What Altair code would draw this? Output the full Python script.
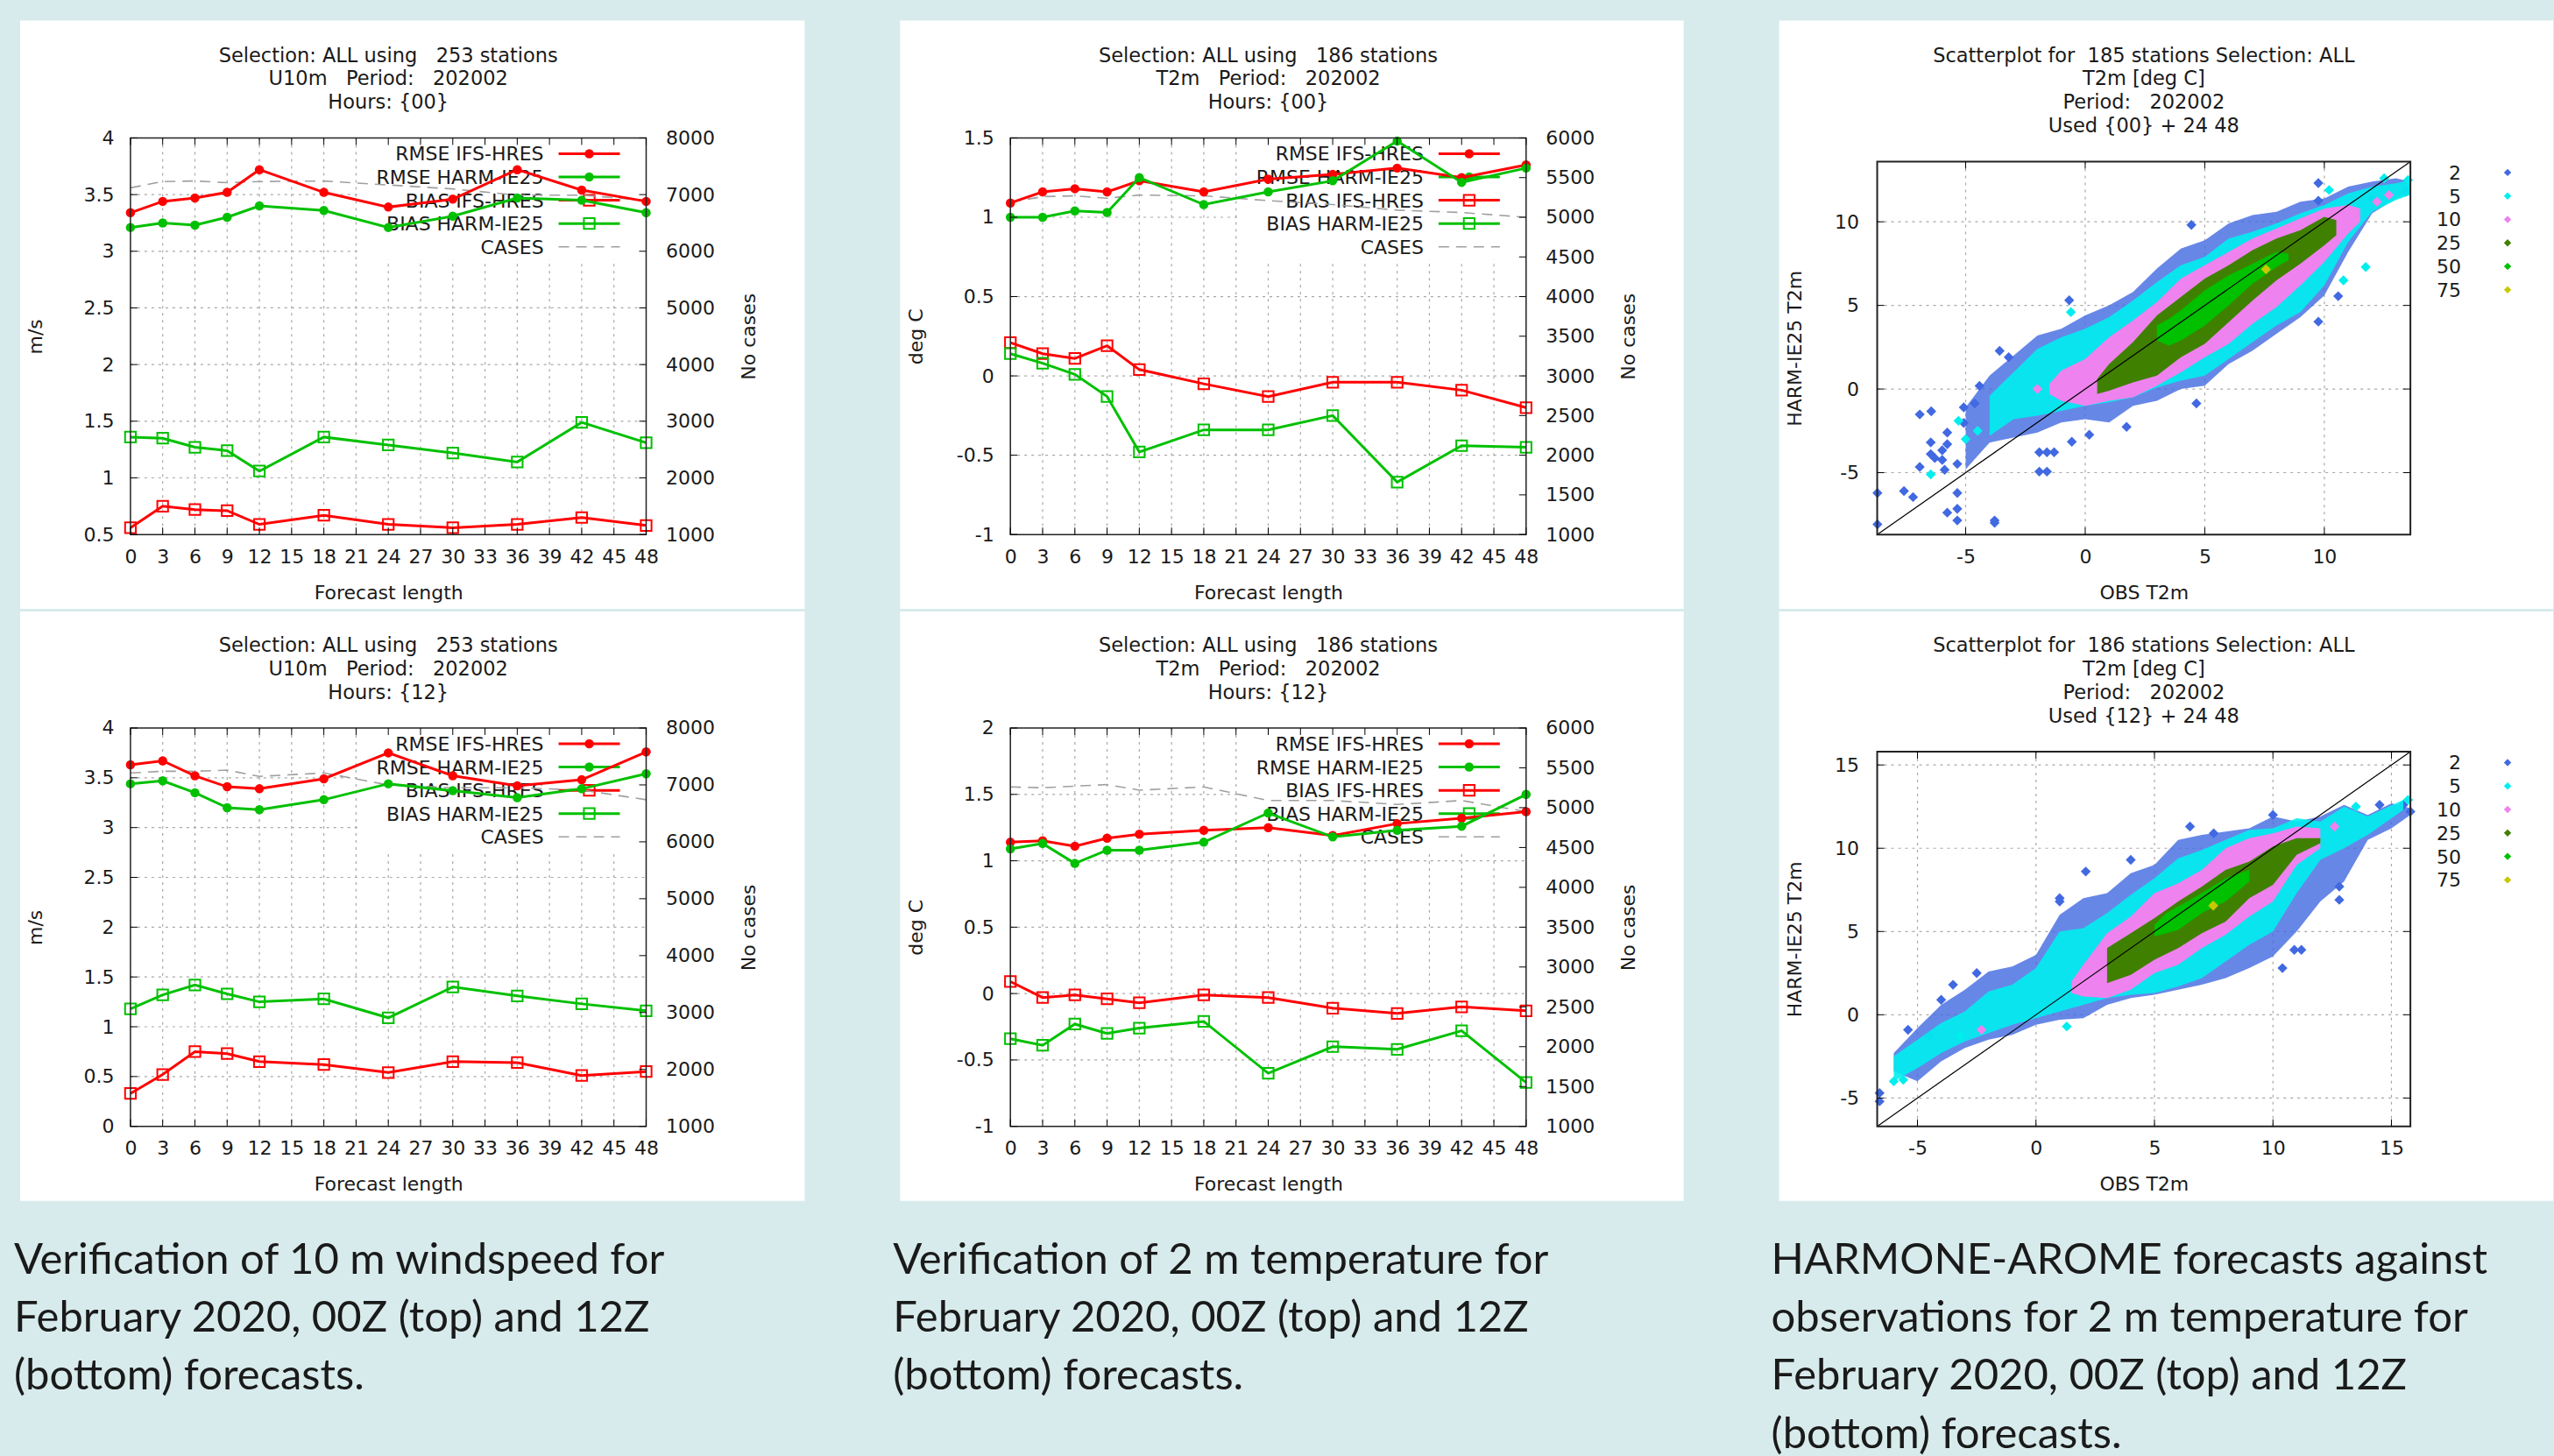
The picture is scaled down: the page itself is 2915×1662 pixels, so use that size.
import altair as alt
import pandas as pd

# ------------------------------------------------------------------ data
HOURS = [0, 3, 6, 9, 12, 18, 24, 30, 36, 42, 48]
X_TICKS = list(range(0, 49, 3))
SERIES = ["RMSE IFS-HRES", "RMSE HARM-IE25", "BIAS IFS-HRES", "BIAS HARM-IE25", "CASES"]

U10_00_RMSE_IFS = [3.34, 3.44, 3.47, 3.52, 3.72, 3.52, 3.39, 3.46, 3.72, 3.54, 3.44]
U10_00_RMSE_HARM = [3.21, 3.25, 3.23, 3.30, 3.40, 3.36, 3.21, 3.31, 3.47, 3.45, 3.34]
U10_00_BIAS_IFS = [0.56, 0.75, 0.72, 0.71, 0.59, 0.67, 0.59, 0.56, 0.59, 0.65, 0.58]
U10_00_BIAS_HARM = [1.36, 1.35, 1.27, 1.24, 1.06, 1.36, 1.29, 1.22, 1.14, 1.49, 1.31]
U10_00_CASES = [7120, 7230, 7240, 7210, 7230, 7240, 7170, 7100, 6990, 6990, 6900]

U10_12_RMSE_IFS = [3.63, 3.67, 3.52, 3.41, 3.39, 3.49, 3.75, 3.52, 3.42, 3.48, 3.76]
U10_12_RMSE_HARM = [3.44, 3.47, 3.35, 3.20, 3.18, 3.28, 3.44, 3.37, 3.30, 3.39, 3.54]
U10_12_BIAS_IFS = [0.33, 0.52, 0.75, 0.73, 0.65, 0.62, 0.54, 0.65, 0.64, 0.51, 0.55]
U10_12_BIAS_HARM = [1.18, 1.32, 1.42, 1.33, 1.25, 1.28, 1.09, 1.40, 1.31, 1.23, 1.16]
U10_12_CASES = [7210, 7240, 7240, 7260, 7150, 7210, 7000, 6950, 6950, 6910, 6740]

T2_00_RMSE_IFS = [1.09, 1.16, 1.18, 1.16, 1.23, 1.16, 1.24, 1.27, 1.31, 1.25, 1.33]
T2_00_RMSE_HARM = [1.00, 1.00, 1.04, 1.03, 1.25, 1.08, 1.16, 1.23, 1.48, 1.22, 1.31]
T2_00_BIAS_IFS = [0.21, 0.14, 0.11, 0.19, 0.04, -0.05, -0.13, -0.04, -0.04, -0.09, -0.20]
T2_00_BIAS_HARM = [0.14, 0.08, 0.01, -0.13, -0.48, -0.34, -0.34, -0.25, -0.67, -0.44, -0.45]
T2_00_CASES = [5190, 5260, 5270, 5240, 5280, 5270, 5210, 5160, 5090, 5060, 5000]

T2_12_RMSE_IFS = [1.14, 1.15, 1.11, 1.17, 1.20, 1.23, 1.25, 1.19, 1.28, 1.32, 1.37]
T2_12_RMSE_HARM = [1.09, 1.13, 0.98, 1.08, 1.08, 1.14, 1.36, 1.18, 1.23, 1.26, 1.50]
T2_12_BIAS_IFS = [0.09, -0.03, -0.01, -0.04, -0.07, -0.01, -0.03, -0.11, -0.15, -0.10, -0.13]
T2_12_BIAS_HARM = [-0.34, -0.39, -0.23, -0.30, -0.26, -0.21, -0.60, -0.40, -0.42, -0.28, -0.67]
T2_12_CASES = [5260, 5250, 5270, 5290, 5220, 5260, 5090, 5090, 5040, 5090, 4950]

U10_YTICKS_00 = [0.5, 1, 1.5, 2, 2.5, 3, 3.5, 4]
U10_YTICKS_12 = [0, 0.5, 1, 1.5, 2, 2.5, 3, 3.5, 4]
T2_YTICKS_00 = [-1, -0.5, 0, 0.5, 1, 1.5]
T2_YTICKS_12 = [-1, -0.5, 0, 0.5, 1, 1.5, 2]
U10_CTICKS = [1000, 2000, 3000, 4000, 5000, 6000, 7000, 8000]
T2_CTICKS = [1000, 1500, 2000, 2500, 3000, 3500, 4000, 4500, 5000, 5500, 6000]

TITLE_U10_00 = ["Selection: ALL using\u00a0\u00a0 253 stations", "U10m\u00a0\u00a0 Period:\u00a0\u00a0 202002", "Hours: {00}"]
TITLE_U10_12 = ["Selection: ALL using\u00a0\u00a0 253 stations", "U10m\u00a0\u00a0 Period:\u00a0\u00a0 202002", "Hours: {12}"]
TITLE_T2_00 = ["Selection: ALL using\u00a0\u00a0 186 stations", "T2m\u00a0\u00a0 Period:\u00a0\u00a0 202002", "Hours: {00}"]
TITLE_T2_12 = ["Selection: ALL using\u00a0\u00a0 186 stations", "T2m\u00a0\u00a0 Period:\u00a0\u00a0 202002", "Hours: {12}"]
TITLE_SC_00 = ["Scatterplot for\u00a0 185 stations Selection: ALL", "T2m [deg C]", "Period:\u00a0\u00a0 202002", "Used {00} + 24 48"]
TITLE_SC_12 = ["Scatterplot for\u00a0 186 stations Selection: ALL", "T2m [deg C]", "Period:\u00a0\u00a0 202002", "Used {12} + 24 48"]

CAPTIONS = [
    ["Verification of 10 m windspeed for", "February 2020, 00Z (top) and 12Z", "(bottom) forecasts."],
    ["Verification of 2 m temperature for", "February 2020, 00Z (top) and 12Z", "(bottom) forecasts."],
    ["HARMONE-AROME forecasts against", "observations for 2 m temperature for", "February 2020, 00Z (top) and 12Z", "(bottom) forecasts."],
]

# scatter: density classes
CLASS_LABELS = ["2", "5", "10", "25", "50", "75"]
CLASS_COLORS = ["#4169e1", "#00eeee", "#ee82ee", "#408000", "#00c000", "#c8c800"]

SC00_DOMAIN = [-8.7, 13.6]
SC00_TICKS = [-5, 0, 5, 10]
SC00_BLUE_OBS = [-5, -4, -3, -2, -1, 0, 1, 2, 3, 4, 5, 6, 7, 8, 9, 10, 11, 12, 13, 13.6]
SC00_BLUE_LO = [-4.8, -3.2, -2.9, -2.6, -2.0, -1.8, -2.0, -1.0, -0.7, 0.0, 0.2, 1.5, 2.3, 3.3, 4.3, 5.6, 8.2, 10.5, 11.4, 11.7]
SC00_BLUE_HI = [-1.1, 0.8, 2.0, 3.2, 3.6, 4.4, 5.0, 5.8, 7.2, 8.4, 8.9, 9.9, 10.4, 10.6, 11.2, 11.4, 12.1, 12.4, 12.6, 12.4]
SC00_CYAN_OBS = [-4, -3, -2, -1, 0, 1, 2, 3, 4, 5, 6, 7, 8, 9, 10, 11, 12, 13, 13.6]
SC00_CYAN_LO = [-2.8, -1.8, -1.6, -1.3, -1.0, -0.8, -0.5, 0.1, 0.5, 0.8, 1.8, 2.8, 3.8, 4.6, 6.2, 8.8, 10.6, 11.3, 11.6]
SC00_CYAN_HI = [-0.4, 1.0, 2.4, 3.1, 3.6, 4.3, 5.3, 6.4, 7.4, 7.9, 9.0, 9.4, 9.9, 10.5, 11.0, 11.7, 12.1, 12.3, 12.5]
SC00_PINK_OBS = [-1.5, -1, 0, 1, 2, 3, 4, 5, 6, 7, 8, 9, 10, 11, 11.5]
SC00_PINK_LO = [-0.3, -0.7, -1.0, -0.7, -0.5, 0.2, 1.0, 1.9, 2.7, 3.9, 4.9, 6.2, 7.6, 9.3, 10.0]
SC00_PINK_HI = [0.3, 1.1, 1.8, 3.1, 4.1, 5.2, 6.6, 7.4, 8.2, 9.0, 9.6, 10.2, 10.8, 11.0, 10.8]
SC00_DKGR_OBS = [0.5, 1, 2, 3, 4, 5, 6, 7, 8, 9, 10, 10.5]
SC00_DKGR_LO = [-0.3, -0.1, 0.4, 0.8, 1.9, 2.7, 4.0, 5.3, 6.5, 7.5, 8.6, 9.2]
SC00_DKGR_HI = [0.6, 1.5, 2.8, 4.4, 5.5, 6.6, 7.4, 8.3, 9.0, 9.5, 10.3, 10.1]
SC00_GREEN_OBS = [3, 3.5, 4, 5, 6, 7, 8, 8.5]
SC00_GREEN_LO = [2.9, 2.6, 2.9, 3.8, 5.0, 6.3, 7.3, 7.7]
SC00_GREEN_HI = [3.8, 4.2, 4.7, 5.9, 6.8, 7.5, 8.2, 8.1]
SC00_BLUE_OUT_X = [-8.69, -8.69, -7.58, -7.2, -6.92, -6.44, -6.92, -6.46, -6.46, -6.29, -5.98, -5.98, -5.88, -5.77, -5.77, -5.77,
                   -5.35, -5.35, -5.35, -5.35, -5.08, -5.08, -4.62, -4.42, -3.58, -3.79, -3.79, -1.92, -1.6, -1.92, -1.6, -1.3,
                   -0.67, -0.56, 0.17, 1.73, 4.44, 4.65, 9.75, 9.75, 9.75, 10.58, -3.2, 12.0, 13.4]
SC00_BLUE_OUT_Y = [-6.22, -8.09, -6.1, -6.46, -1.52, -1.33, -4.66, -3.19, -3.89, -4.13, -3.66, -4.24, -4.83, -2.6, -3.3, -7.39,
                   -7.16, -7.86, -6.22, -4.48, -1.1, -2.03, -0.86, 0.19, 2.28, -7.86, -8.0, -4.94, -4.94, -3.78, -3.78, -3.78,
                   5.31, -3.15, -2.73, -2.26, 9.81, -0.86, 12.31, 11.26, 4.03, 5.55, 1.9, 11.4, 11.8]
SC00_CYAN_OUT_X = [-6.46, -5.3, -5.0, -4.5, 11.73, 10.8, 10.2, -0.6, 12.5, 13.5]
SC00_CYAN_OUT_Y = [-5.1, -1.9, -3.0, -2.5, 7.3, 6.5, 11.9, 4.6, 12.6, 12.5]
SC00_PINK_OUT_X = [12.7, 12.2, -2.0]
SC00_PINK_OUT_Y = [11.6, 11.2, 0.0]
SC00_YELLOW_X = [7.56]
SC00_YELLOW_Y = [7.16]

SC12_DOMAIN = [-6.7, 15.8]
SC12_TICKS = [-5, 0, 5, 10, 15]
SC12_BLUE_OBS = [-6, -5, -4, -3, -2, -1, 0, 1, 2, 3, 4, 5, 6, 7, 8, 9, 10, 11, 12, 13, 14, 15, 15.8]
SC12_BLUE_LO = [-3.4, -4.0, -2.8, -2.0, -1.5, -1.2, -0.6, -0.3, -0.2, 0.6, 1.0, 1.2, 1.5, 1.8, 2.2, 2.8, 3.5, 5.0, 6.8, 8.0, 10.5, 11.2, 12.0]
SC12_BLUE_HI = [-2.3, -0.8, 0.6, 1.5, 2.6, 2.9, 3.6, 6.0, 7.0, 7.3, 8.5, 9.0, 10.5, 10.8, 11.0, 11.2, 11.9, 11.6, 11.9, 12.6, 12.0, 12.7, 12.4]
SC12_CYAN_OBS = [-6, -5, -4, -3, -2, -1, 0, 1, 2, 3, 4, 5, 6, 7, 8, 9, 10, 11, 12, 13, 14, 15.5]
SC12_CYAN_LO = [-4.0, -3.2, -2.3, -1.6, -1.1, -0.6, -0.2, 0.2, 0.6, 1.0, 1.2, 1.3, 1.7, 2.2, 3.2, 4.2, 5.0, 7.3, 9.3, 10.0, 10.8, 12.3]
SC12_CYAN_HI = [-2.5, -1.5, -0.5, 0.2, 1.4, 1.8, 2.8, 5.0, 5.2, 6.1, 7.2, 8.2, 9.4, 9.9, 10.5, 11.1, 11.2, 11.8, 11.6, 12.5, 11.9, 12.9]
SC12_PINK_OBS = [1.5, 2, 3, 4, 5, 6, 7, 8, 9, 10, 11, 12]
SC12_PINK_LO = [1.3, 1.1, 1.0, 1.5, 2.5, 3.0, 4.0, 4.8, 5.9, 6.8, 9.0, 10.0]
SC12_PINK_HI = [2.0, 3.0, 4.9, 5.9, 7.3, 7.9, 8.7, 10.0, 10.6, 10.9, 11.3, 11.2]
SC12_DKGR_OBS = [3, 4, 5, 6, 7, 8, 9, 10, 11, 12]
SC12_DKGR_LO = [1.9, 2.4, 3.3, 4.0, 4.9, 5.6, 7.0, 7.8, 9.6, 10.3]
SC12_DKGR_HI = [4.0, 4.9, 5.8, 6.8, 7.7, 8.7, 9.2, 10.1, 10.6, 10.6]
SC12_GREEN_OBS = [5, 5.5, 6, 7, 8, 9]
SC12_GREEN_LO = [4.7, 4.9, 5.1, 6.1, 6.8, 8.0]
SC12_GREEN_HI = [5.4, 6.1, 6.5, 7.3, 8.2, 8.7]
SC12_BLUE_OUT_X = [-6.6, -6.6, -5.4, -4.0, -2.5, 2.1, 4.0, 1.0, 1.0, 10.4, 10.9, 11.2, 12.8, 12.8, 14.5, 15.5, 15.8, 6.5, 7.5, 10.0, -3.5, -4.5]
SC12_BLUE_OUT_Y = [-4.7, -5.2, -0.9, 0.9, 2.5, 8.6, 9.3, 7.0, 6.8, 2.8, 3.9, 3.9, 6.9, 7.7, 12.6, 12.6, 12.2, 11.3, 10.9, 12.0, 1.8, -1.3]
SC12_CYAN_OUT_X = [-6.0, -3.2, 13.5, 15.7, 1.3, -5.6]
SC12_CYAN_OUT_Y = [-4.0, -1.3, 12.5, 12.9, -0.7, -3.9]
SC12_PINK_OUT_X = [12.6, -2.3]
SC12_PINK_OUT_Y = [11.3, -0.9]
SC12_YELLOW_X = [7.48]
SC12_YELLOW_Y = [6.55]

# ------------------------------------------------------------------ layout / style
CANVAS_W, CANVAS_H = 2915, 1662
COL_X = [148, 1153, 2143]
ROW_Y = [156, 830]
PLOT_W = [589, 589, 609]
COL_W = [604, 589, 609]
ROW_H = [453, 455]
SCAT_TOP = 27
WHITE_X = [(22, 918), (1027, 1922), (2031, 2915)]
WHITE_Y = [(22, 694), (697, 1370)]
CAPTION_X = [15, 1019, 2022]
CAPTION_BASE = 1453

BG = "#d8ebec"
TXT = "#1a1a1a"
GRID = "#a8a8a8"
FONT = "DejaVu Sans"
CAP_FONT = "Lato"
RED = "#ff0000"
GREEN = "#00c000"
CASES_COLOR = "#a0a0a0"
AREA_OPACITY = [0.8, 0.9, 1, 1, 1]

ONE = pd.DataFrame({"k": [0]})

AX = dict(domain=False, ticks=False, grid=False, labelFont=FONT, labelFontSize=22, labelColor=TXT,
          titleFont=FONT, titleFontSize=22, titleColor=TXT, titleFontWeight="normal",
          labelExpr="'' + datum.value", zindex=1, labelOverlap=False, labelFlush=False)


def vrect(x0, x1, y0, y1, color):
    return alt.Chart(ONE).mark_rect(color=color).encode(
        x=alt.value(x0), x2=alt.value(x1), y=alt.value(y0), y2=alt.value(y1))


def vtext(lines, x, y, size, align, font, lh):
    df = pd.DataFrame({"t": ["\n".join(lines)]})
    return alt.Chart(df).mark_text(align=align, baseline="alphabetic", fontSize=size, font=font,
                                   color=TXT, lineBreak="\n", lineHeight=lh).encode(
        text="t:N", x=alt.value(x), y=alt.value(y))


def scl(domain, rng):
    return alt.Scale(domain=domain, range=rng, nice=False, zero=False)


def ticks_x(values, xsc, y0, y1):
    return alt.Chart(pd.DataFrame({"v": values})).mark_rule(color="#000", strokeWidth=1).encode(
        x=alt.X("v:Q", scale=xsc, axis=None), y=alt.value(y0), y2=alt.value(y1))


def ticks_y(values, ysc, x0, x1):
    return alt.Chart(pd.DataFrame({"v": values})).mark_rule(color="#000", strokeWidth=1).encode(
        y=alt.Y("v:Q", scale=ysc, axis=None), x=alt.value(x0), x2=alt.value(x1))


def frame(xdom, ydom, xsc, ysc, width):
    df = pd.DataFrame({"x0": [xdom[0]], "x1": [xdom[1]], "y0": [ydom[0]], "y1": [ydom[1]]})
    return alt.Chart(df).mark_rect(fillOpacity=0, stroke="#222", strokeWidth=width).encode(
        x=alt.X("x0:Q", scale=xsc, axis=None), x2="x1:Q",
        y=alt.Y("y0:Q", scale=ysc, axis=None), y2="y1:Q")


def white_panel(col, row):
    ox, oy = COL_X[col], ROW_Y[row]
    return vrect(WHITE_X[col][0] - ox, WHITE_X[col][1] - ox, WHITE_Y[row][0] - oy, WHITE_Y[row][1] - oy, "white")


def line_panel(col, row, titles, ylab, ydom, yticks, cdom, cticks,
               rmse_ifs, rmse_harm, bias_ifs, bias_harm, cases):
    H, W, GW = ROW_H[row], PLOT_W[col], COL_W[col]
    xsc = scl([0, 48], [0, W])
    ysc = scl(ydom, [H, 0])
    csc = scl(cdom, [H, 0])
    L = []
    if col == 0 and row == 0:
        L.append(vrect(-COL_X[0], CANVAS_W - COL_X[0], -ROW_Y[0], CANVAS_H - ROW_Y[0], BG))
    L.append(white_panel(col, row))
    # grid
    L.append(alt.Chart(pd.DataFrame({"v": X_TICKS[1:-1]})).mark_rule(
        color=GRID, strokeDash=[3, 5], strokeWidth=1.2).encode(
        x=alt.X("v:Q", scale=xsc, axis=alt.Axis(
            orient="bottom", values=X_TICKS, labelPadding=15, title="Forecast length",
            titleX=W / 2, titleY=66, titleAlign="center", titleBaseline="middle", **AX)),
        y=alt.value(0), y2=alt.value(H)))
    L.append(alt.Chart(pd.DataFrame({"v": yticks[1:-1]})).mark_rule(
        color=GRID, strokeDash=[3, 5], strokeWidth=1.2).encode(
        y=alt.Y("v:Q", scale=ysc, axis=alt.Axis(
            orient="left", values=yticks, labelPadding=19, title=ylab, titleAngle=270,
            titleX=-108, titleY=H / 2, titleAlign="center", titleBaseline="middle", **AX)),
        x=alt.value(0), x2=alt.value(W)))
    # legend box (opaque key)
    L.append(vrect(261, W, 0, 139, "white"))
    colors = [RED, GREEN, RED, GREEN, CASES_COLOR]
    for i, name in enumerate(SERIES):
        yc = 18 + 26.6 * i
        L.append(alt.Chart(ONE).mark_text(align="right", baseline="alphabetic", fontSize=22, font=FONT,
                                          color=TXT).encode(text=alt.value(name), x=alt.value(472),
                                                            y=alt.value(yc + 8)))
        if i == 4:
            L.append(alt.Chart(ONE).mark_rule(color=CASES_COLOR, strokeWidth=1.5, strokeDash=[12, 8]).encode(
                x=alt.value(489), x2=alt.value(559), y=alt.value(yc)))
        else:
            L.append(alt.Chart(ONE).mark_rule(color=colors[i], strokeWidth=3).encode(
                x=alt.value(489), x2=alt.value(559), y=alt.value(yc)))
            if i < 2:
                L.append(alt.Chart(ONE).mark_point(shape="circle", filled=True, size=110, color=colors[i],
                                                   opacity=1).encode(x=alt.value(524), y=alt.value(yc)))
            else:
                L.append(alt.Chart(ONE).mark_point(shape="square", filled=False, size=150, strokeWidth=2,
                                                   color=colors[i], opacity=1).encode(
                    x=alt.value(524), y=alt.value(yc)))
    # cases (right axis)
    L.append(alt.Chart(pd.DataFrame({"h": HOURS, "v": cases})).mark_line(
        color=CASES_COLOR, strokeDash=[12, 8], strokeWidth=1.6).encode(
        x=alt.X("h:Q", scale=xsc, axis=None),
        y=alt.Y("v:Q", scale=csc, axis=alt.Axis(
            orient="right", values=cticks, offset=W - GW, labelPadding=22, title="No cases",
            titleAngle=270, titleX=117, titleY=H / 2, titleAlign="center", titleBaseline="middle", **AX))))
    # series
    for vals, color, kind in [(rmse_ifs, RED, "rmse"), (rmse_harm, GREEN, "rmse"),
                              (bias_ifs, RED, "bias"), (bias_harm, GREEN, "bias")]:
        df = pd.DataFrame({"h": HOURS, "v": vals})
        enc = dict(x=alt.X("h:Q", scale=xsc, axis=None), y=alt.Y("v:Q", scale=ysc, axis=None))
        L.append(alt.Chart(df).mark_line(color=color, strokeWidth=3).encode(**enc))
        if kind == "rmse":
            L.append(alt.Chart(df).mark_point(shape="circle", filled=True, size=110, color=color,
                                              opacity=1).encode(**enc))
        else:
            L.append(alt.Chart(df).mark_point(shape="square", filled=False, size=150, strokeWidth=2,
                                              color=color, opacity=1).encode(**enc))
    # frame and inward ticks
    L.append(frame([0, 48], ydom, xsc, ysc, 1.5))
    L.append(ticks_x(X_TICKS, xsc, H, H - 8))
    L.append(ticks_x(X_TICKS, xsc, 0, 8))
    L.append(ticks_y(yticks, ysc, 0, 8))
    L.append(ticks_y(cticks, csc, W, W - 8))
    # title
    L.append(vtext(titles, W / 2, -87, 22.5, "center", FONT, 27))
    if row == 1:
        L.append(vtext(CAPTIONS[col], CAPTION_X[col] - COL_X[col], CAPTION_BASE - ROW_Y[1], 49, "left",
                       CAP_FONT, 66.5))
    return alt.layer(*L).resolve_scale(x="independent", y="independent").properties(width=GW, height=H)


def scatter_panel(row, titles, dom, ticks, areas, outliers, yellow):
    col = 2
    H, W = ROW_H[row], PLOT_W[col]
    xsc = scl(dom, [0, W])
    ysc = scl(dom, [H, SCAT_TOP])
    L = [white_panel(col, row)]
    L.append(alt.Chart(pd.DataFrame({"v": ticks})).mark_rule(
        color=GRID, strokeDash=[3, 5], strokeWidth=1.2).encode(
        x=alt.X("v:Q", scale=xsc, axis=alt.Axis(
            orient="bottom", values=ticks, labelPadding=15, title="OBS T2m",
            titleX=W / 2, titleY=66, titleAlign="center", titleBaseline="middle", **AX)),
        y=alt.value(SCAT_TOP), y2=alt.value(H)))
    L.append(alt.Chart(pd.DataFrame({"v": ticks})).mark_rule(
        color=GRID, strokeDash=[3, 5], strokeWidth=1.2).encode(
        y=alt.Y("v:Q", scale=ysc, axis=alt.Axis(
            orient="left", values=ticks, labelPadding=21, title="HARM-IE25 T2m", titleAngle=270,
            titleX=-94, titleY=(H + SCAT_TOP) / 2, titleAlign="center", titleBaseline="middle", **AX)),
        x=alt.value(0), x2=alt.value(W)))
    for i, (obs, lo, hi) in enumerate(areas):
        df = pd.DataFrame({"obs": obs, "lo": lo, "hi": hi})
        L.append(alt.Chart(df).mark_area(color=CLASS_COLORS[i], opacity=AREA_OPACITY[i]).encode(
            x=alt.X("obs:Q", scale=xsc, axis=None),
            y=alt.Y("lo:Q", scale=ysc, axis=None), y2="hi:Q"))
        if i < len(outliers):
            ox, oy = outliers[i]
            L.append(alt.Chart(pd.DataFrame({"x": ox, "y": oy})).mark_point(
                shape="diamond", filled=True, size=130, color=CLASS_COLORS[i], opacity=1).encode(
                x=alt.X("x:Q", scale=xsc, axis=None), y=alt.Y("y:Q", scale=ysc, axis=None)))
    L.append(alt.Chart(pd.DataFrame({"x": yellow[0], "y": yellow[1]})).mark_point(
        shape="diamond", filled=True, size=130, color=CLASS_COLORS[5], opacity=1).encode(
        x=alt.X("x:Q", scale=xsc, axis=None), y=alt.Y("y:Q", scale=ysc, axis=None)))
    L.append(alt.Chart(pd.DataFrame({"x": dom, "y": dom})).mark_line(color="#000", strokeWidth=1.2).encode(
        x=alt.X("x:Q", scale=xsc, axis=None), y=alt.Y("y:Q", scale=ysc, axis=None)))
    L.append(frame(dom, dom, xsc, ysc, 2))
    L.append(ticks_x(ticks, xsc, H, H - 8))
    L.append(ticks_x(ticks, xsc, SCAT_TOP, SCAT_TOP + 8))
    L.append(ticks_y(ticks, ysc, 0, 8))
    L.append(ticks_y(ticks, ysc, W, W - 8))
    for i, lab in enumerate(CLASS_LABELS):
        yc = SCAT_TOP + 12.5 + 26.8 * i
        L.append(alt.Chart(ONE).mark_text(align="right", baseline="alphabetic", fontSize=22, font=FONT,
                                          color=TXT).encode(text=alt.value(lab), x=alt.value(667),
                                                            y=alt.value(yc + 8)))
        L.append(alt.Chart(ONE).mark_point(shape="diamond", filled=True, size=70, color=CLASS_COLORS[i],
                                           opacity=1).encode(x=alt.value(720), y=alt.value(yc)))
    L.append(vtext(titles, W / 2, -87, 22.5, "center", FONT, 27))
    if row == 1:
        L.append(vtext(CAPTIONS[col], CAPTION_X[col] - COL_X[col], CAPTION_BASE - ROW_Y[1], 49, "left",
                       CAP_FONT, 66.5))
    return alt.layer(*L).resolve_scale(x="independent", y="independent").properties(width=W, height=H)


p1 = line_panel(0, 0, TITLE_U10_00, "m/s", [0.5, 4], U10_YTICKS_00, [1000, 8000], U10_CTICKS,
                U10_00_RMSE_IFS, U10_00_RMSE_HARM, U10_00_BIAS_IFS, U10_00_BIAS_HARM, U10_00_CASES)
p2 = line_panel(0, 1, TITLE_U10_12, "m/s", [0, 4], U10_YTICKS_12, [1000, 8000], U10_CTICKS,
                U10_12_RMSE_IFS, U10_12_RMSE_HARM, U10_12_BIAS_IFS, U10_12_BIAS_HARM, U10_12_CASES)
p3 = line_panel(1, 0, TITLE_T2_00, "deg C", [-1, 1.5], T2_YTICKS_00, [1000, 6000], T2_CTICKS,
                T2_00_RMSE_IFS, T2_00_RMSE_HARM, T2_00_BIAS_IFS, T2_00_BIAS_HARM, T2_00_CASES)
p4 = line_panel(1, 1, TITLE_T2_12, "deg C", [-1, 2], T2_YTICKS_12, [1000, 6000], T2_CTICKS,
                T2_12_RMSE_IFS, T2_12_RMSE_HARM, T2_12_BIAS_IFS, T2_12_BIAS_HARM, T2_12_CASES)
p5 = scatter_panel(0, TITLE_SC_00, SC00_DOMAIN, SC00_TICKS,
                   [(SC00_BLUE_OBS, SC00_BLUE_LO, SC00_BLUE_HI), (SC00_CYAN_OBS, SC00_CYAN_LO, SC00_CYAN_HI),
                    (SC00_PINK_OBS, SC00_PINK_LO, SC00_PINK_HI), (SC00_DKGR_OBS, SC00_DKGR_LO, SC00_DKGR_HI),
                    (SC00_GREEN_OBS, SC00_GREEN_LO, SC00_GREEN_HI)],
                   [(SC00_BLUE_OUT_X, SC00_BLUE_OUT_Y), (SC00_CYAN_OUT_X, SC00_CYAN_OUT_Y),
                    (SC00_PINK_OUT_X, SC00_PINK_OUT_Y)],
                   (SC00_YELLOW_X, SC00_YELLOW_Y))
p6 = scatter_panel(1, TITLE_SC_12, SC12_DOMAIN, SC12_TICKS,
                   [(SC12_BLUE_OBS, SC12_BLUE_LO, SC12_BLUE_HI), (SC12_CYAN_OBS, SC12_CYAN_LO, SC12_CYAN_HI),
                    (SC12_PINK_OBS, SC12_PINK_LO, SC12_PINK_HI), (SC12_DKGR_OBS, SC12_DKGR_LO, SC12_DKGR_HI),
                    (SC12_GREEN_OBS, SC12_GREEN_LO, SC12_GREEN_HI)],
                   [(SC12_BLUE_OUT_X, SC12_BLUE_OUT_Y), (SC12_CYAN_OUT_X, SC12_CYAN_OUT_Y),
                    (SC12_PINK_OUT_X, SC12_PINK_OUT_Y)],
                   (SC12_YELLOW_X, SC12_YELLOW_Y))

chart = alt.ConcatChart(
    concat=[p1, p3, p5, p2, p4, p6], columns=3,
    spacing={"row": 221, "column": 401}, bounds="flush", align="each",
    padding=0, background=BG,
).configure_view(stroke="transparent")

chart.save("out.html", embed_options={"renderer": "svg", "actions": False})
